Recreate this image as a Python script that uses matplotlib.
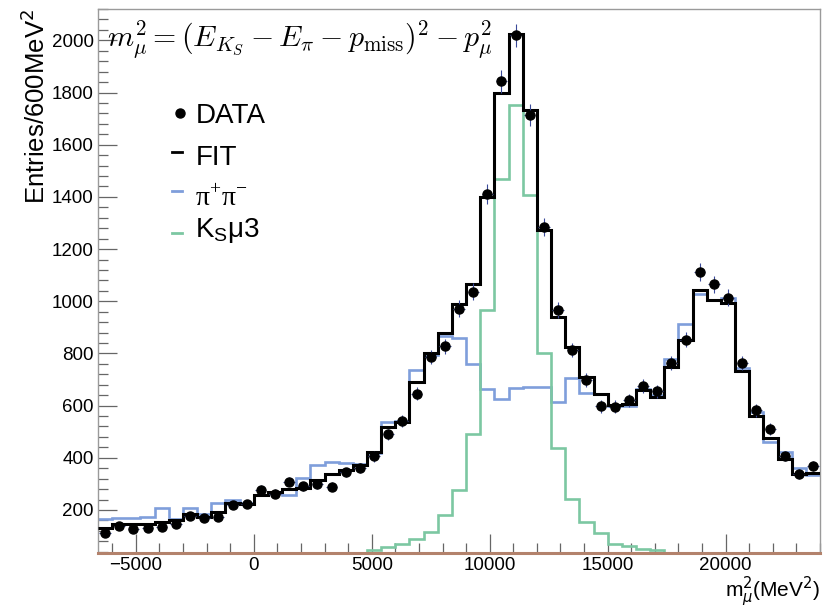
import numpy as np
import matplotlib
matplotlib.use("Agg")
import matplotlib.pyplot as plt
from matplotlib.ticker import MultipleLocator
from matplotlib.lines import Line2D

plt.rcParams['font.family'] = ['Liberation Sans', 'DejaVu Sans']

# ---- binning (m_mu^2 in MeV^2) ----
bin_start = -6600
bin_width = 600
n_bins = 51

# ---- data points (entries per bin) ----
data = [110, 138, 129, 131, 133, 148, 177, 170, 174, 218,
        221, 278, 263, 308, 291, 299, 289, 344, 361, 405,
        490, 540, 646, 787, 828, 972, 1036, 1410, 1843, 2019,
        1713, 1284, 966, 813, 698, 598, 596, 621, 676, 655,
        764, 853, 1112, 1065, 1014, 764, 582, 510, 407, 337, 369]

# ---- total fit ----
fit = [131, 148, 146, 148, 155, 163, 184, 174, 193, 227,
       222, 257, 269, 282, 286, 314, 337, 352, 374, 421,
       518, 538, 691, 802, 880, 991, 1065, 1400, 1798, 2025,
       1734, 1272, 938, 826, 708, 643, 603, 605, 659, 633,
       748, 853, 1042, 1004, 995, 733, 561, 474, 397, 337, 342]

# ---- pi+ pi- component ----
pipi = [167, 171, 171, 174, 206, 165, 206, 183, 225, 240,
        225, 259, 269, 257, 321, 374, 384, 380, 378, 419,
        538, 540, 736, 793, 868, 860, 759, 665, 627, 669,
        672, 672, 614, 704, 649, 644, 598, 600, 665, 640,
        780, 912, 1027, 1004, 1014, 746, 576, 461, 423, 359, 333]

# ---- K_S mu3 component ----
ksmu3 = [0, 0, 0, 0, 0, 0, 0, 0, 0, 0,
         0, 0, 0, 0, 0, 0, 0, 0, 0, 46,
         59, 69, 87, 116, 180, 276, 493, 966, 1470, 1751,
         1406, 800, 436, 241, 152, 111, 70, 61, 50, 46,
         0, 0, 0, 0, 0, 0, 0, 0, 0, 0, 0]

edges = bin_start + bin_width * np.arange(n_bins + 1)
centers = 0.5 * (edges[:-1] + edges[1:])
data = np.array(data, dtype=float)

col_fit = 'black'
col_pipi = '#7f9edb'
col_ks = '#7cc7a2'
col_err = '#3b4a9a'
col_base = '#b3826c'

fig = plt.figure(figsize=(8.23, 6.10), dpi=100)
ax = fig.add_axes([0.1191, 0.0934, 0.8773, 0.8918])

ymin, ymax = 35, 2120
ax.set_xlim(-6600, 24000)
ax.set_ylim(ymin, ymax)

ax.stairs(pipi, edges, baseline=None, color=col_pipi, lw=1.9, zorder=2)
ax.stairs(ksmu3, edges, baseline=None, color=col_ks, lw=1.9, zorder=2)
ax.stairs(fit, edges, baseline=None, color=col_fit, lw=2.2, zorder=3)
ax.axhline(ymin, color=col_base, lw=2.2, zorder=4, clip_on=False)

ax.errorbar(centers, data, yerr=np.sqrt(data), xerr=bin_width * 0.4,
            fmt='none', ecolor=col_err, elinewidth=0.8, capsize=0, zorder=5)
ax.plot(centers, data, 'o', color='black', ms=6.5, zorder=6, ls='none')

# ---- ticks ----
ax.xaxis.set_major_locator(MultipleLocator(5000))
ax.xaxis.set_minor_locator(MultipleLocator(1000))
ax.yaxis.set_major_locator(MultipleLocator(200))
ax.yaxis.set_minor_locator(MultipleLocator(40))
ax.tick_params(which='both', direction='in', color='#666666', width=0.9,
               labelsize=13.5, labelcolor='black')
ax.tick_params(which='major', length=14)
ax.tick_params(which='minor', length=7)
ax.tick_params(axis='x', pad=3)
ax.tick_params(axis='y', pad=3)
for s in ['top', 'right', 'left']:
    ax.spines[s].set_color('#9a9a9a')
    ax.spines[s].set_linewidth(1.0)
ax.spines['bottom'].set_visible(False)

# ---- labels ----
ax.set_ylabel('Entries/600MeV$^2$', fontsize=18.5, loc='top', labelpad=1)
fig.text(0.997, 0.021, r'm$_\mu^2$(MeV$^2$)', fontsize=15, ha='right', va='baseline')

ax.text(0.012, 0.930,
        r'$m_\mu^2 = (E_{K_S} - E_\pi - p_{\rm miss})^2 - p_\mu^2$',
        transform=ax.transAxes, fontsize=21.5, va='baseline', ha='left',
        math_fontfamily='cm', zorder=7)

# ---- legend (manual) ----
lx0, lx1, tx = 0.102, 0.117, 0.135
ax.add_line(Line2D([0.113], [0.809], marker='o', color='black', ms=6.5,
                   transform=ax.transAxes, ls='none'))
ax.text(tx, 0.803, 'DATA', transform=ax.transAxes, fontsize=20, va='center')
ax.add_line(Line2D([lx0, lx1], [0.737, 0.737], color=col_fit, lw=2.0,
                   transform=ax.transAxes))
ax.text(tx, 0.726, 'FIT', transform=ax.transAxes, fontsize=20, va='center')
ax.add_line(Line2D([lx0, lx1], [0.666, 0.666], color=col_pipi, lw=2.0,
                   transform=ax.transAxes))
ax.text(tx, 0.652, r'π$^{\mathregular{+}}$π$^{\mathregular{-}}$', transform=ax.transAxes,
        fontsize=20, va='center', family=['Liberation Serif', 'DejaVu Serif'])
ax.add_line(Line2D([lx0, lx1], [0.588, 0.588], color=col_ks, lw=2.0,
                   transform=ax.transAxes))
ax.text(tx, 0.592, r'K$_{\mathregular{S}}$μ3', transform=ax.transAxes, fontsize=20,
        va='center')

fig.savefig('out.png', dpi=100)
